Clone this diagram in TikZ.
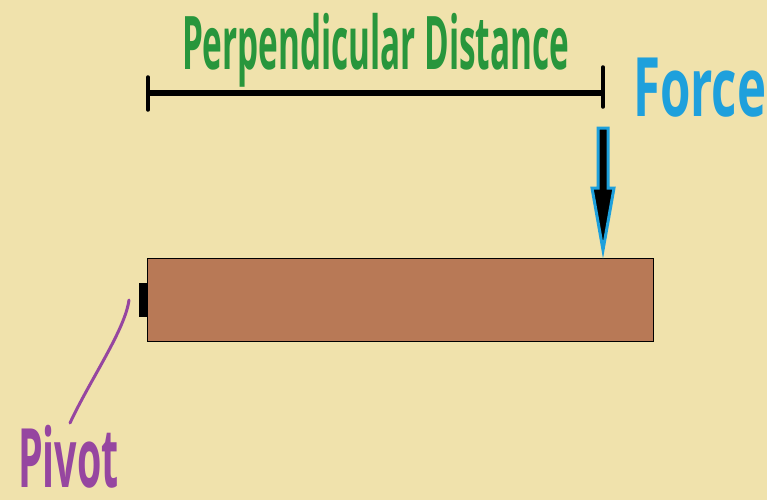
\documentclass[tikz,border=0pt]{standalone}
\usepackage{fontspec}
\setmainfont{Open Sans}
\definecolor{bgc}{RGB}{240,226,172}
\definecolor{barc}{RGB}{184,121,86}
\definecolor{greenc}{RGB}{40,150,60}
\definecolor{bluec}{RGB}{30,160,220}
\definecolor{purplec}{RGB}{150,70,160}
\begin{document}
\begin{tikzpicture}[x=1pt,y=-1pt,
  lbl/.style={inner sep=0pt,outer sep=0pt,font=\bfseries},
  dimline/.style={line width=5.5pt,black},
  tick/.style={line width=3.5pt,black,line cap=round}]
\fill[bgc] (0,0) rectangle (767,500);
\useasboundingbox (0,0) rectangle (767,500);
% bar
\node[draw=black,line width=0.8pt,fill=barc,minimum width=506pt,minimum height=83pt,inner sep=0pt,anchor=north west] (bar) at (147,258) {};
% pivot block
\fill[black] (139,283) rectangle (148,317);
\coordinate (pivotpt) at (129,300);
% dimension
\coordinate (dl) at (148,93);
\coordinate (dr) at (603,93);
\draw[dimline] (dl) -- (dr);
\draw[tick] (148,77) -- (148,110);
\draw[tick] (603,67) -- (603,107);
% text
\node[lbl,text=greenc,anchor=base west,xscale=0.45] (pd) at (182,70) {\fontsize{74}{80}\selectfont Perpendicular Distance};
\node[lbl,text=bluec,anchor=base west,xscale=0.6] (force) at (633,117) {\fontsize{82}{90}\selectfont Force};
\node[lbl,text=purplec,anchor=base west,xscale=0.48,text depth=0pt] (pivot) at (18,487) {\fontsize{82}{88}\selectfont Pivot};
% force arrow
\draw[bluec,line width=3pt,fill=black,line join=miter]
  (598,128) -- (608,128) -- (608,188) -- (614,188) -- (603,250) -- (592,188) -- (598,188) -- cycle;
% pivot line
\coordinate (pivotend) at (70,423);
\draw[purplec,line width=3pt,line cap=round] (pivotpt) .. controls (125,330) and (90,380) .. (pivotend);
\end{tikzpicture}
\end{document}
